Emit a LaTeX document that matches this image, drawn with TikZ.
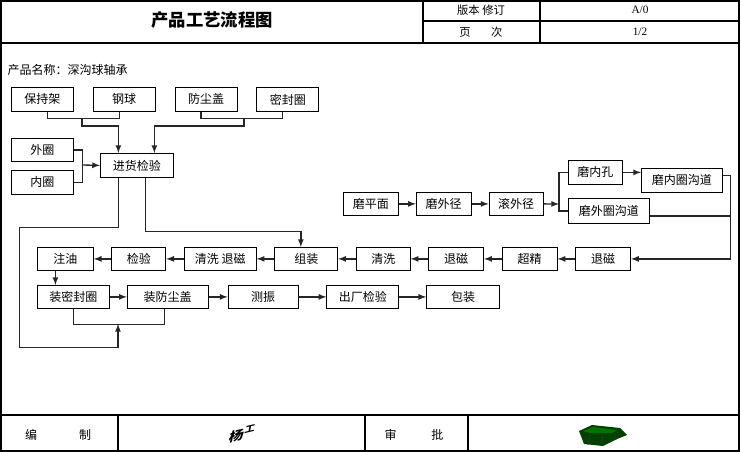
\documentclass[tikz,border=0pt]{standalone}
\usepackage{fontspec}
\setmainfont{Noto Sans CJK SC}
\newfontfamily\latinfont{Liberation Serif}
\usetikzlibrary{positioning}

\begin{document}
\begin{tikzpicture}[
            x=0.75pt, y=-0.75pt,
            box/.style={rectangle, draw=black, line width=0.6pt, minimum height=17.25pt, inner sep=1pt, font=\fontsize{9pt}{10pt}\selectfont},
            part/.style={box, minimum width=46.5pt, minimum height=18pt},
            link/.style={draw=black!85, line width=1pt},
            arrow/.style={->, >=latex, draw=black!85, line width=1pt},
            outline/.style={draw=black, line width=0.8pt},
            cell/.style={font=\fontsize{8.5pt}{10pt}\selectfont}
        ]
        \useasboundingbox (0,0) rectangle (741,452);
        
        % Frame
        \draw[outline] (1,1) rectangle (739,451);
        \draw[outline] (1,43) -- (739,43);
        \draw[outline] (423,1) -- (423,43);
        \draw[outline] (540,1) -- (540,43);
        \draw[outline] (423,21) -- (739,21);
        \draw[outline] (1,415) -- (739,415);
        \draw[outline] (118,415) -- (118,451);
        \draw[outline] (365,415) -- (365,451);
        \draw[outline] (468,415) -- (468,451);
        
        % Header
        \node[font=\fontsize{13pt}{15pt}\selectfont\bfseries] (title) at (212,20) {产品工艺流程图};
        \node[cell] (verlbl) at (481,10) {版本 修订};
        \node[cell, font=\latinfont\fontsize{8.5pt}{10pt}\selectfont] (verval) at (640,10) {A/0};
        \node[cell] (pagelbl) at (481,32) {页\hspace{1.8em}次};
        \node[cell, font=\latinfont\fontsize{8.5pt}{10pt}\selectfont] (pageval) at (640,32) {1/2};
        \node[anchor=west, font=\fontsize{9pt}{10pt}\selectfont] (prodname) at (3,70) {产品名称：深沟球轴承};
        
        % Raw parts
        \node[part, anchor=north west] (cage) at (11,87) {保持架};
        \node[part, right=14.25pt of cage] (ball) {钢球};
        \node[part, right=14.25pt of ball] (dustcap) {防尘盖};
        \node[part, right=14.25pt of dustcap] (sealring) {密封圈};
        \node[part, anchor=north west, minimum height=17.25pt] (outer) at (11,138) {外圈};
        \node[part, below=6pt of outer] (inner) {内圈};
        \node[box, minimum width=54.75pt, minimum height=18pt, anchor=north west] (incoming) at (100,153) {进货检验};
        
        % Grinding
        \node[box, minimum width=41.25pt, anchor=north west] (face) at (343,192) {磨平面};
        \node[box, minimum width=41.25pt, right=12.75pt of face] (odgrind) {磨外径};
        \node[box, minimum width=40.5pt, right=12.75pt of odgrind] (odroll) {滚外径};
        \node[box, minimum width=40.5pt, minimum height=18pt, anchor=north west] (bore) at (568,160) {磨内孔};
        \node[box, minimum width=60.75pt, minimum height=18pt, anchor=north west] (irgroove) at (641,168) {磨内圈沟道};
        \node[box, minimum width=60.75pt, minimum height=18.75pt, anchor=north west] (orgroove) at (568,198) {磨外圈沟道};
        
        % Assembly row
        \node[box, minimum width=42pt, anchor=north west] (oil) at (37,247) {注油};
        \node[box, minimum width=40.5pt, right=13.25pt of oil] (check) {检验};
        \node[box, minimum width=54pt, right=13.25pt of check] (cleandemag) {清洗 退磁};
        \node[box, minimum width=47.25pt, right=13.25pt of cleandemag] (assemble) {组装};
        \node[box, minimum width=40.5pt, right=13.25pt of assemble] (clean) {清洗};
        \node[box, minimum width=41.25pt, right=13.25pt of clean] (demagA) {退磁};
        \node[box, minimum width=41.25pt, right=13.25pt of demagA] (superfin) {超精};
        \node[box, minimum width=41.25pt, right=13.25pt of superfin] (demagB) {退磁};
        
        % Finishing row
        \node[box, minimum width=54pt, anchor=north west] (sealfit) at (37,285) {装密封圈};
        \node[box, minimum width=60.75pt, right=12.75pt of sealfit] (dustfit) {装防尘盖};
        \node[box, minimum width=52.5pt, right=14.25pt of dustfit] (vibtest) {测振};
        \node[box, minimum width=54pt, right=21pt of vibtest] (final) {出厂检验};
        \node[box, minimum width=54.75pt, right=20.25pt of final] (pack) {包装};
        
        % Junctions
        \coordinate (jtopL) at (82,118);
        \coordinate (jtopR) at (244,118);
        \coordinate (jring) at (82,165);
        \coordinate (jgrind) at (559,204);
        \coordinate (jseal) at (118,324);
        
        % Incoming arrows
        \draw[link] ([xshift=3.75pt]cage.south) -- ++(0,7) -| ([xshift=-3.75pt]ball.south);
        \draw[arrow] (jtopL) -- ++(0,8) -| ([xshift=-13.9pt]incoming.north);
        \draw[link] ([xshift=-3.75pt]dustcap.south) -- ++(0,7) -| ([xshift=-3.75pt]sealring.south);
        \draw[arrow] (jtopR) -- ++(0,8) -| ([xshift=13.1pt]incoming.north);
        \draw[link] (outer.east) -- ++(9,0) |- (inner.east);
        \draw[arrow] (jring) -- (incoming.west);
        
        % From incoming inspection
        \draw[link] (sealfit.south) -- ++(0,16) -| ([xshift=-2.6pt]dustfit.south);
        \draw[arrow] ([xshift=-13.9pt]incoming.south) -- ++(0,50) -- ++(-99,0) -- ++(0,120) -| (jseal);
        \draw[arrow] ([xshift=6.4pt]incoming.south) -- ++(0,54) -| ([xshift=-4.1pt]assemble.north);
        
        % Grinding line
        \draw[arrow] (face) -- (odgrind);
        \draw[arrow] (odgrind) -- (odroll);
        \draw[arrow] (odroll.east) -- (jgrind);
        \draw[link] (bore.west) -- ++(-9,0) |- (orgroove.west);
        \draw[arrow] (bore.east) -- (bore.east -| irgroove.west);
        \draw[arrow] ([yshift=3.75pt]irgroove.east) -- ++(8,0) |- (demagB.east);
        \draw[link] ([yshift=-3.75pt]orgroove.east) -- ++(81,0);
        
        % Rows
        \foreach \a/\b in {demagB/superfin, superfin/demagA, demagA/clean, clean/assemble, assemble/cleandemag, cleandemag/check, check/oil}
            \draw[arrow] (\a) -- (\b);
        \draw[arrow] ([xshift=-7.5pt]oil.south) -- ([xshift=-7.5pt]oil.south |- sealfit.north);
        \foreach \a/\b in {sealfit/dustfit, dustfit/vibtest, vibtest/final, final/pack}
            \draw[arrow] (\a) -- (\b);
        
        % Footer
        \node[font=\fontsize{9pt}{10pt}\selectfont] (compiler) at (58,435) {编\hspace{3.5em}制};
        \node[font=\fontsize{10pt}{10pt}\selectfont\bfseries, xslant=0.5, rotate=15] (sign) at (242,434) {杨\raisebox{4pt}{\fontsize{7pt}{7pt}\selectfont 工}};
        \node[font=\fontsize{9pt}{10pt}\selectfont] (approver) at (414,435) {审\hspace{2.9em}批};
        
        % Stamp
        \fill[green!25!black] (579,431) -- (592,425) -- (620,428) -- (627,435) -- (617,439) -- (603,446) -- (584,444) -- cycle;
        \fill[green!45!black] (583,431) -- (593,427) -- (617,430) -- (612,433) -- (590,433) -- cycle;
        \draw[black!80, line width=0.6pt] (590,433) -- (588,445) (603,434) -- (602,445) (614,433) -- (616,440);
        
        \end{tikzpicture}
\end{document}
